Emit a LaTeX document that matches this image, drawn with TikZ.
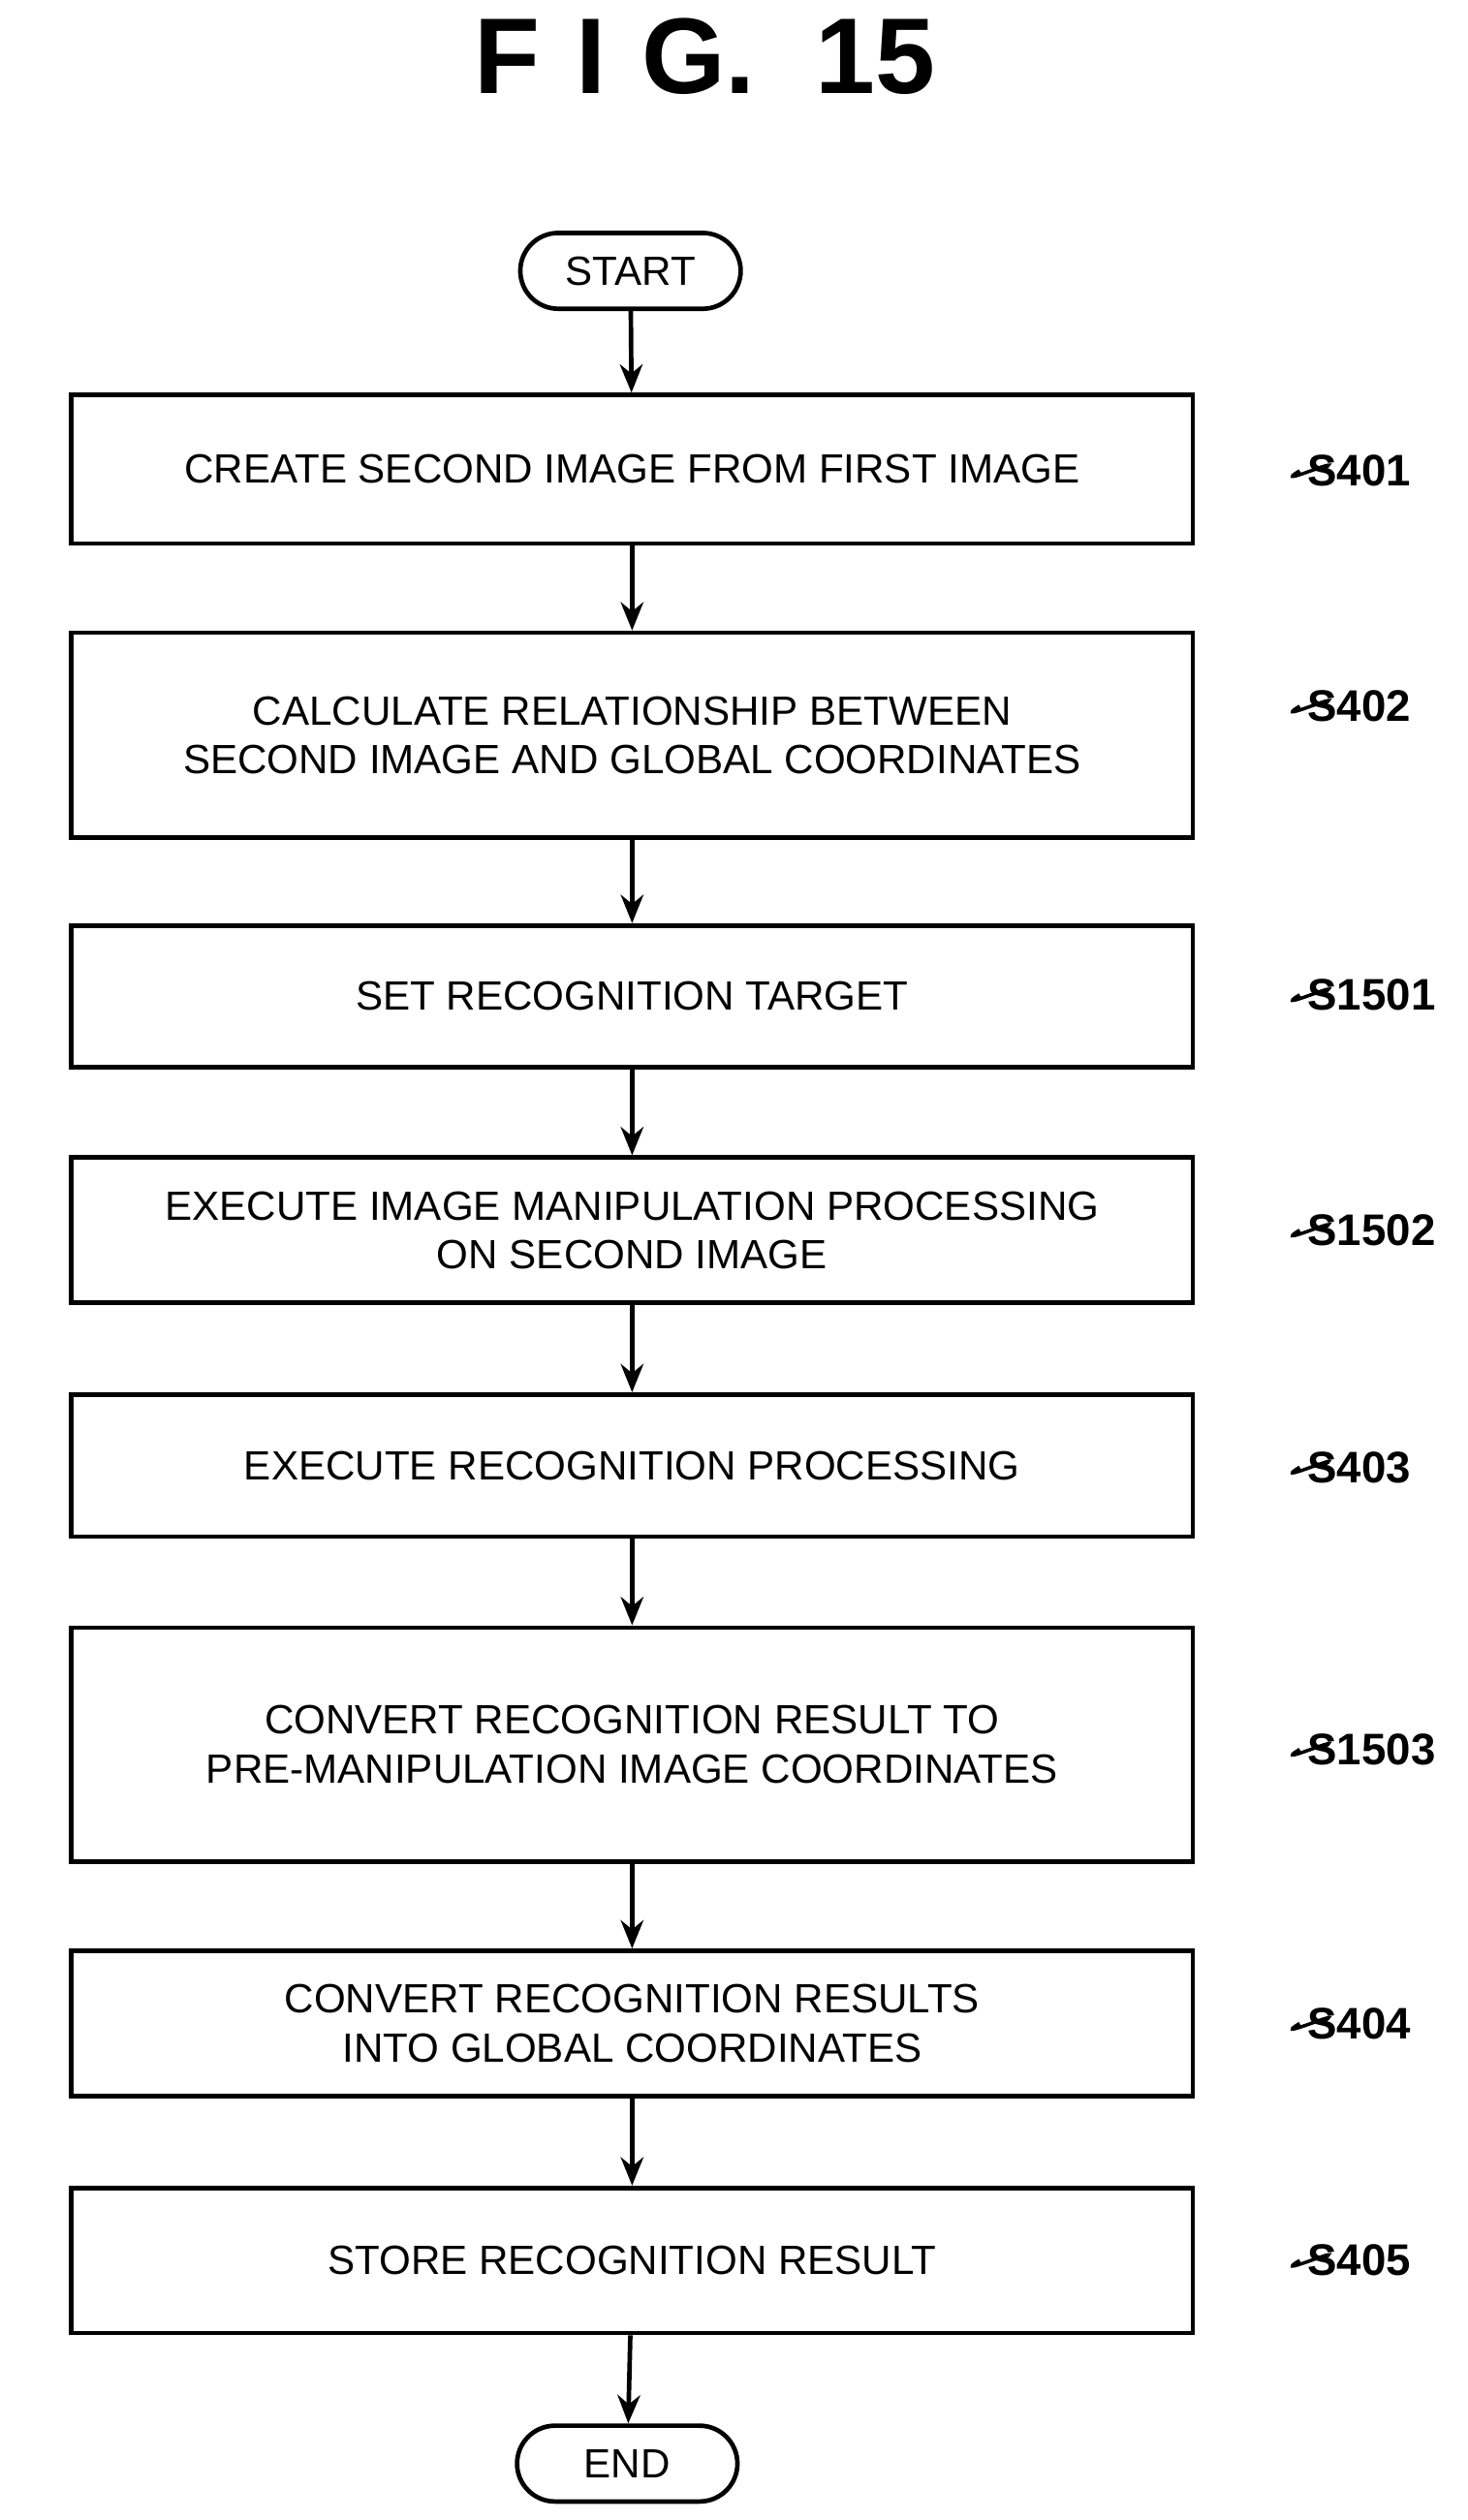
\documentclass[tikz,border=0pt]{standalone}
\usepackage{fontspec}
\setmainfont{Liberation Sans}
\usetikzlibrary{arrows.meta,shapes.misc}
\begin{document}
\begin{tikzpicture}[x=0.01cm,y=-0.01cm, thick,
  proc/.style = {draw, minimum width=6.95cm, align=center, font=\fontsize{7.2}{8.6}\selectfont},
  term/.style = {draw, rounded rectangle, minimum width=1.6cm, minimum height=0.47cm, font=\fontsize{7.2}{8.6}\selectfont},
  lbl/.style = {font=\bfseries\fontsize{7.8}{9}\selectfont, anchor=west, inner sep=1pt},
  flow/.style = {-{Stealth[length=5pt,width=4pt]}},
  tilde/.style = {semithick}]
\useasboundingbox (0,0) rectangle (910,1563);
\node[font=\bfseries\fontsize{19}{22}\selectfont] (title) at (437,35) {F\,\,I\,\,G.~~15};
\node[term] (start) at (391,168) {START};
\node[proc, minimum height=0.92cm] (s401) at (392,291) {CREATE SECOND IMAGE FROM FIRST IMAGE};
\node[proc, minimum height=1.27cm] (s402) at (392,456) {CALCULATE RELATIONSHIP BETWEEN\\SECOND IMAGE AND GLOBAL COORDINATES};
\node[proc, minimum height=0.88cm] (s1501) at (392,618) {SET RECOGNITION TARGET};
\node[proc, minimum height=0.90cm] (s1502) at (392,763) {EXECUTE IMAGE MANIPULATION PROCESSING\\ON SECOND IMAGE};
\node[proc, minimum height=0.88cm] (s403) at (392,909) {EXECUTE RECOGNITION PROCESSING};
\node[proc, minimum height=1.45cm] (s1503) at (392,1082) {CONVERT RECOGNITION RESULT TO\\PRE-MANIPULATION IMAGE COORDINATES};
\node[proc, minimum height=0.90cm] (s404) at (392,1255) {CONVERT RECOGNITION RESULTS\\INTO GLOBAL COORDINATES};
\node[proc, minimum height=0.90cm] (s405) at (392,1402) {STORE RECOGNITION RESULT};
\node[term] (end) at (389,1528) {END};
% step labels
\node[lbl] (l401) at (806,292) {S401};
\node[lbl] (l402) at (806,438) {S402};
\node[lbl] (l1501) at (806,617) {S1501};
\node[lbl] (l1502) at (806,763) {S1502};
\node[lbl] (l403) at (806,910) {S403};
\node[lbl] (l1503) at (806,1085) {S1503};
\node[lbl] (l404) at (806,1255) {S404};
\node[lbl] (l405) at (806,1402) {S405};
\foreach \b/\l in {s401/l401,s402/l402,s1501/l1501,s1502/l1502,s403/l403,s1503/l1503,s404/l404,s405/l405}
  \draw[tilde] ([xshift=22]\b.east |- \l.west) .. controls +(22,-12) and +(-20,12) .. (\l.west);
% arrows
\draw[flow] (start) -- (s401);
\draw[flow] (s401) -- (s402);
\draw[flow] (s402) -- (s1501);
\draw[flow] (s1501) -- (s1502);
\draw[flow] (s1502) -- (s403);
\draw[flow] (s403) -- (s1503);
\draw[flow] (s1503) -- (s404);
\draw[flow] (s404) -- (s405);
\draw[flow] (s405) -- (end);
\end{tikzpicture}
\end{document}
